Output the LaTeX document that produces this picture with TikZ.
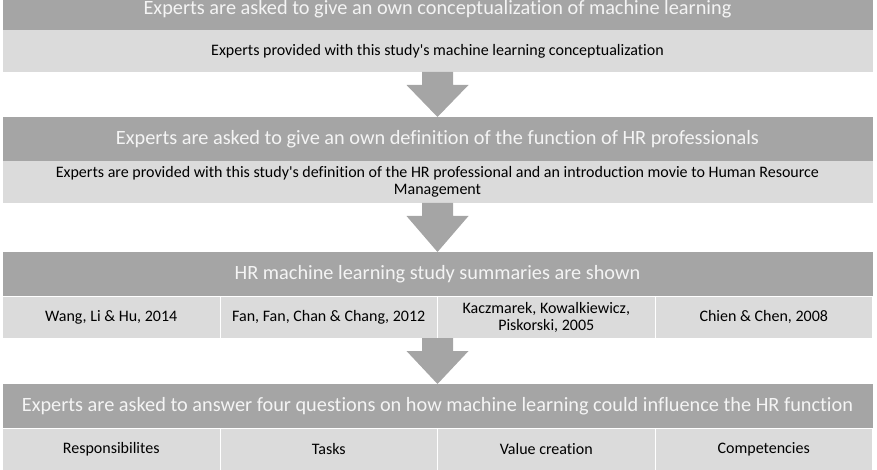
\documentclass[tikz,border=0pt]{standalone}
\usepackage{fontspec}
\setmainfont{Carlito}[Ligatures=NoCommon]
\usetikzlibrary{positioning,calc}

\definecolor{headgray}{HTML}{A5A5A5}
\definecolor{cellgray}{HTML}{DBDBDB}
\definecolor{headtext}{HTML}{F4F4F4}

% block arrow from the bottom of one box to the top of the next
\newcommand{\blockarrow}[2]{%
  \fill[headgray] ($(#1.south)+(-15.5,0)$) -- ($(#1.south)+(15.5,0)$)
    -- ($(#1.south)+(15.5,13)$) -- ($(#1.south)+(31,13)$) -- (#2.north)
    -- ($(#1.south)+(-31,13)$) -- ($(#1.south)+(-15.5,13)$) -- cycle;}

\begin{document}
\begin{tikzpicture}[x=1pt, y=-1pt,
    head/.style={fill=headgray, text=headtext, font=\fontsize{20.3}{24}\selectfont,
      minimum width=870pt, minimum height=44pt, inner sep=0pt, outer sep=0pt},
    info/.style={fill=cellgray, text=black, font=\fontsize{16}{17}\selectfont,
      minimum width=870pt, minimum height=42pt, inner sep=0pt, outer sep=0pt, align=center},
    cell/.style={fill=cellgray, draw=white, line width=1pt, text=black,
      font=\fontsize{16}{17}\selectfont, minimum width=217.5pt, minimum height=42pt,
      inner sep=0pt, outer sep=0pt, align=center}]
  \useasboundingbox (0,0) rectangle (877,470);

  % step 1
  \node[head, anchor=north, minimum height=41pt] (h1) at (437.5,-11) {Experts are asked to give an own conceptualization of machine learning};
  \node[info, below=0pt of h1] (i1) {Experts provided with this study\textquotesingle s machine learning conceptualization};

  % step 2
  \node[head, below=45pt of i1] (h2) {Experts are asked to give an own definition of the function of HR professionals};
  \node[info, below=0pt of h2] (i2) {Experts are provided with this study\textquotesingle s definition of the HR professional and an introduction movie to Human Resource\\Management};

  % step 3
  \node[head, below=49pt of i2] (h3) {HR machine learning study summaries are shown};
  \foreach \i/\txt in {1/{Wang, Li \& Hu, 2014}, 2/{Fan, Fan, Chan \& Chang, 2012},
      3/{Kaczmarek, Kowalkiewicz,\\Piskorski, 2005}, 4/{Chien \& Chen, 2008}}
    \node[cell, anchor=north] (s\i) at ($(h3.south west)+({(\i-0.5)*217.5},0)$) {\txt};

  % step 4
  \node[head, below=88pt of h3] (h4) {Experts are asked to answer four questions on how machine learning could influence the HR function};
  \foreach \i/\txt in {1/Responsibilites, 2/Tasks, 3/Value creation, 4/Competencies}
    \node[cell, anchor=north] (q\i) at ($(h4.south west)+({(\i-0.5)*217.5},0)$) {\txt};

  \blockarrow{i1}{h2}
  \blockarrow{i2}{h3}
  \coordinate (r3) at ($(s2.south east)$);
  \fill[headgray] ($(r3)+(-15.5,0)$) -- ($(r3)+(15.5,0)$) -- ($(r3)+(15.5,13)$)
    -- ($(r3)+(31,13)$) -- (h4.north) -- ($(r3)+(-31,13)$) -- ($(r3)+(-15.5,13)$) -- cycle;
\end{tikzpicture}
\end{document}
